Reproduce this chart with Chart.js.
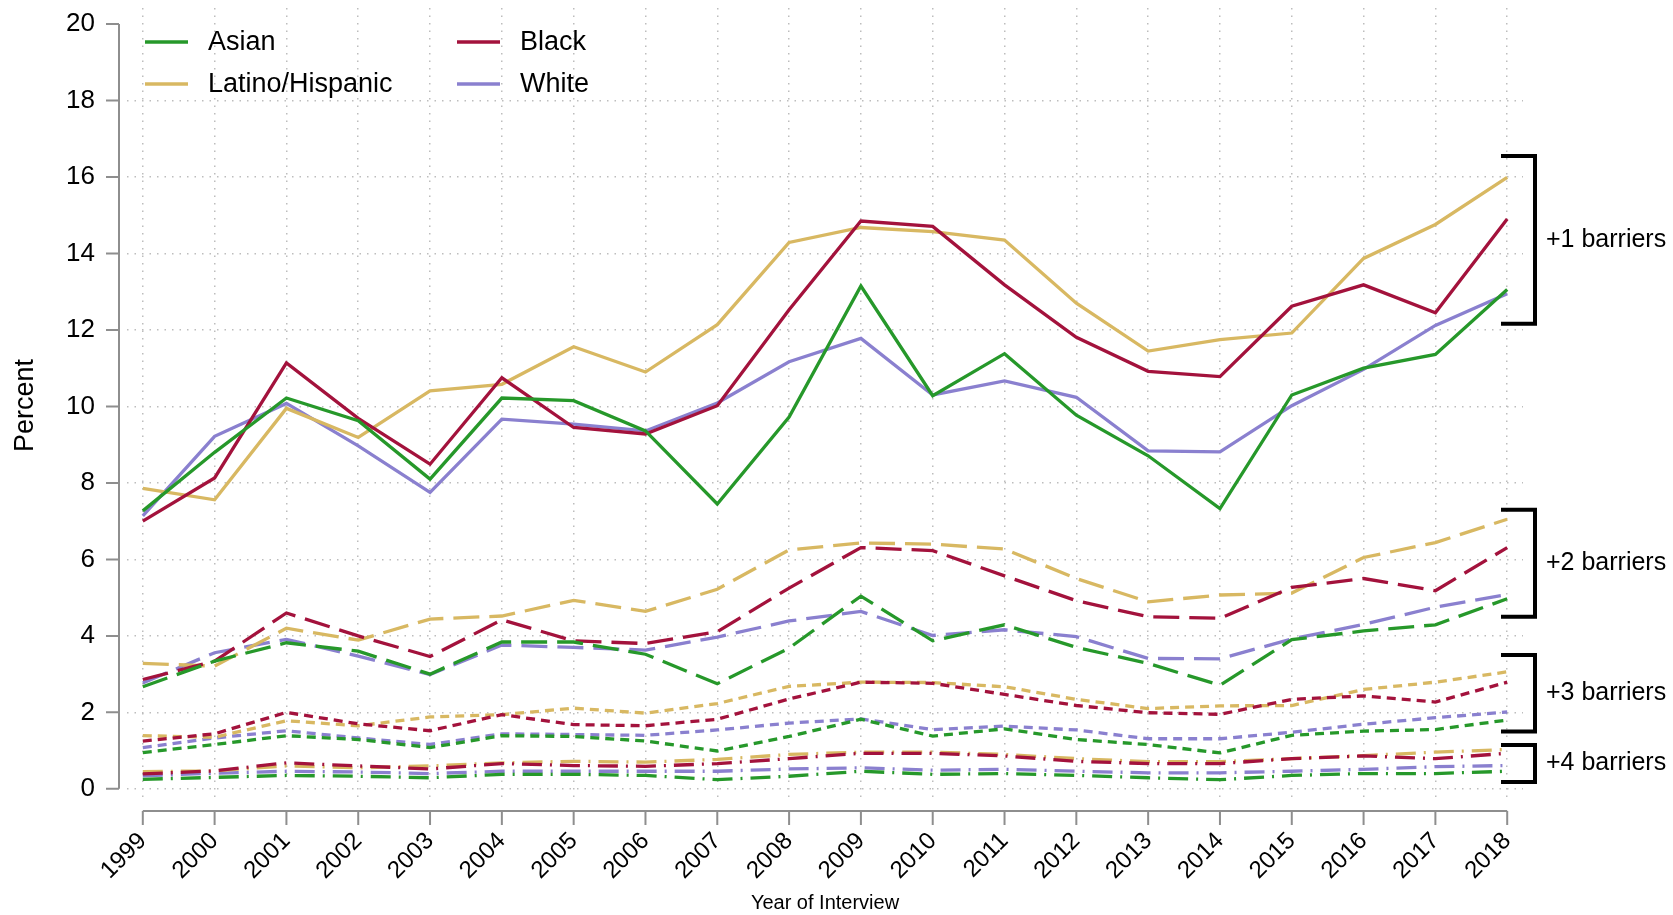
<!DOCTYPE html>
<html>
<head>
<meta charset="utf-8">
<title>Barriers by race, 1999-2018</title>
<script src="https://cdn.jsdelivr.net/npm/chart.js@4"></script>
<style>
	html, body { margin: 0; padding: 0; background: #ffffff; }
	#wrap { width: 1673px; height: 915px; }
</style>
</head>
<body>
<div id="wrap"><canvas id="barrierChart" width="1673" height="915"></canvas></div>
<script>
// Years on the x axis
const years = [1999, 2000, 2001, 2002, 2003, 2004, 2005, 2006, 2007, 2008,
	2009, 2010, 2011, 2012, 2013, 2014, 2015, 2016, 2017, 2018];

// Y ticks (percent)
const yTicks = [0, 2, 4, 6, 8, 10, 12, 14, 16, 18, 20];

// Groups
const groups = ['Asian', 'Black', 'Latino/Hispanic', 'White'];

// +1 barriers
const asian1 = [7.27, 8.8, 10.22, 9.63, 8.1, 10.22, 10.15, 9.36, 7.45, 9.72, 13.15, 10.28, 11.38, 9.77, 8.71, 7.33, 10.3, 11.0, 11.36, 13.06];
const black1 = [7.0, 8.13, 11.14, 9.69, 8.49, 10.75, 9.45, 9.28, 10.02, 12.53, 14.85, 14.71, 13.18, 11.81, 10.92, 10.78, 12.62, 13.18, 12.45, 14.9];
const latino1 = [7.86, 7.56, 9.95, 9.19, 10.41, 10.58, 11.56, 10.9, 12.14, 14.29, 14.68, 14.57, 14.35, 12.7, 11.45, 11.75, 11.92, 13.87, 14.76, 15.99];
const white1 = [7.14, 9.22, 10.08, 8.97, 7.75, 9.67, 9.54, 9.36, 10.09, 11.17, 11.78, 10.3, 10.67, 10.24, 8.84, 8.81, 10.02, 10.97, 12.12, 12.95];

// +2 barriers
const asian2 = [2.67, 3.34, 3.82, 3.6, 3.0, 3.84, 3.84, 3.52, 2.75, 3.68, 5.04, 3.87, 4.29, 3.7, 3.28, 2.71, 3.9, 4.13, 4.29, 4.97];
const black2 = [2.86, 3.34, 4.6, 4.0, 3.46, 4.42, 3.87, 3.8, 4.11, 5.25, 6.31, 6.23, 5.57, 4.92, 4.5, 4.46, 5.27, 5.5, 5.18, 6.31];
const latino2 = [3.28, 3.21, 4.2, 3.89, 4.44, 4.52, 4.93, 4.64, 5.22, 6.25, 6.43, 6.4, 6.27, 5.5, 4.89, 5.07, 5.12, 6.05, 6.44, 7.05];
const white2 = [2.77, 3.56, 3.91, 3.47, 2.99, 3.76, 3.7, 3.63, 3.97, 4.39, 4.64, 4.01, 4.16, 3.98, 3.41, 3.4, 3.92, 4.3, 4.75, 5.08];

// +3 barriers
const asian3 = [0.95, 1.16, 1.39, 1.29, 1.08, 1.39, 1.37, 1.25, 0.99, 1.37, 1.82, 1.38, 1.57, 1.29, 1.16, 0.94, 1.4, 1.51, 1.55, 1.8];
const black3 = [1.25, 1.44, 2.0, 1.7, 1.52, 1.94, 1.68, 1.65, 1.82, 2.35, 2.79, 2.76, 2.47, 2.18, 1.99, 1.95, 2.34, 2.43, 2.27, 2.79];
const latino3 = [1.39, 1.35, 1.78, 1.65, 1.88, 1.94, 2.11, 1.98, 2.23, 2.68, 2.79, 2.78, 2.67, 2.34, 2.1, 2.17, 2.18, 2.6, 2.79, 3.06];
const white3 = [1.08, 1.33, 1.52, 1.33, 1.16, 1.44, 1.42, 1.4, 1.54, 1.72, 1.83, 1.55, 1.64, 1.54, 1.31, 1.31, 1.48, 1.69, 1.86, 2.01];

// +4 barriers
const asian4 = [0.25, 0.3, 0.35, 0.33, 0.29, 0.38, 0.38, 0.35, 0.24, 0.33, 0.46, 0.38, 0.4, 0.35, 0.29, 0.24, 0.35, 0.4, 0.4, 0.46];
const black4 = [0.39, 0.47, 0.68, 0.6, 0.52, 0.66, 0.61, 0.59, 0.66, 0.79, 0.93, 0.93, 0.86, 0.72, 0.66, 0.66, 0.79, 0.86, 0.79, 0.93];
const latino4 = [0.45, 0.47, 0.6, 0.55, 0.6, 0.68, 0.72, 0.7, 0.77, 0.9, 0.96, 0.96, 0.9, 0.79, 0.71, 0.71, 0.79, 0.87, 0.96, 1.03];
const white4 = [0.34, 0.41, 0.46, 0.44, 0.4, 0.46, 0.46, 0.46, 0.46, 0.52, 0.55, 0.49, 0.51, 0.46, 0.42, 0.42, 0.46, 0.51, 0.58, 0.61];

// Bracket labels and the range (percent) each bracket spans
const bracketLabels = ['+1 barriers', '+2 barriers', '+3 barriers', '+4 barriers'];
const bracketLow = [12.16, 4.5, 1.5, 0.18];
const bracketHigh = [16.55, 7.3, 3.5, 1.15];

// Colours per group
const colours = {
	'Asian': '#26982a',
	'Black': '#a3123c',
	'Latino/Hispanic': '#d8b862',
	'White': '#8a80cf'
};

// Dash patterns per barrier level
const dashes = [[], [26, 10], [9, 6], [20, 8, 2, 8]];

const FONT = '"Liberation Sans", Arial, Helvetica, sans-serif';

// Build datasets - one per group per barrier level
const series = [
	[asian1, black1, latino1, white1],
	[asian2, black2, latino2, white2],
	[asian3, black3, latino3, white3],
	[asian4, black4, latino4, white4]
];
const datasets = [];
series.forEach((level, li) => {
	level.forEach((vals, gi) => {
		datasets.push({
			label: groups[gi] + ' ' + bracketLabels[li],
			data: vals.map((v, i) => ({ x: years[i], y: v })),
			borderColor: colours[groups[gi]],
			borderWidth: 3.3,
			borderDash: dashes[li],
			pointRadius: 0,
			tension: 0,
			fill: false
		});
	});
});

// Stata-like axes, legend and brackets
const extras = {
	id: 'extras',
	afterDraw(chart) {
		const ctx = chart.ctx;
		const xs = chart.scales.x;
		const ys = chart.scales.y;
		const area = chart.chartArea;
		ctx.save();

		// Y axis line + ticks (0 to 20 only)
		ctx.strokeStyle = '#8e8e8e';
		ctx.lineWidth = 2;
		const ax = area.left - 8;
		ctx.beginPath();
		ctx.moveTo(ax, ys.getPixelForValue(yTicks[0]));
		ctx.lineTo(ax, ys.getPixelForValue(yTicks[yTicks.length - 1]));
		yTicks.forEach(t => {
			const py = ys.getPixelForValue(t);
			ctx.moveTo(ax - 13, py);
			ctx.lineTo(ax, py);
		});
		ctx.stroke();

		// X axis line + ticks (1999 to 2018 only)
		const ay = area.bottom + 8;
		ctx.beginPath();
		ctx.moveTo(xs.getPixelForValue(years[0]), ay);
		ctx.lineTo(xs.getPixelForValue(years[years.length - 1]), ay);
		years.forEach(yr => {
			const px = xs.getPixelForValue(yr);
			ctx.moveTo(px, ay);
			ctx.lineTo(px, ay + 14);
		});
		ctx.stroke();

		// Legend inside the plot
		ctx.font = '27px ' + FONT;
		ctx.textBaseline = 'middle';
		ctx.fillStyle = '#000';
		ctx.lineWidth = 3.3;
		groups.forEach((g, i) => {
			const col = i % 2;
			const row = Math.floor(i / 2);
			const lx = area.left + 18 + col * 312;
			const ly = area.top + 34 + row * 42;
			ctx.strokeStyle = colours[g];
			ctx.beginPath();
			ctx.moveTo(lx, ly);
			ctx.lineTo(lx + 43, ly);
			ctx.stroke();
			ctx.fillText(g, lx + 63, ly + 1);
		});

		// Brackets on the right
		ctx.strokeStyle = '#000';
		ctx.lineWidth = 4;
		ctx.font = '25px ' + FONT;
		bracketLabels.forEach((lab, i) => {
			const top = ys.getPixelForValue(bracketHigh[i]);
			const bot = ys.getPixelForValue(bracketLow[i]);
			const bx = area.right + 12;
			ctx.beginPath();
			ctx.moveTo(area.right - 22, top);
			ctx.lineTo(bx, top);
			ctx.lineTo(bx, bot);
			ctx.lineTo(area.right - 22, bot);
			ctx.stroke();
			ctx.fillText(lab, bx + 11, (top + bot) / 2);
		});
		ctx.restore();
	}
};

// Chart
new Chart(document.getElementById('barrierChart'), {
	type: 'line',
	data: { datasets: datasets },
	plugins: [extras],
	options: {
		responsive: false,
		animation: false,
		events: [],
		layout: { padding: { top: 8, right: 150, left: 0, bottom: 0 } },
		plugins: {
			legend: { display: false },
			tooltip: { enabled: false }
		},
		scales: {
			x: {
				type: 'linear',
				min: 1998.78,
				max: 2018.22,
				afterBuildTicks: s => { s.ticks = years.map(v => ({ value: v })); },
				// fixed axis height, no automatic side padding
				afterFit: s => { s.height = 112; s.paddingLeft = 0; s.paddingRight = 0; },
				border: { display: false, dash: [1.5, 6] },
				grid: {
					color: '#bdbdbd',
					lineWidth: 1.5,
					drawTicks: false
				},
				ticks: {
					autoSkip: false,
					minRotation: 45,
					maxRotation: 45,
					padding: 24,
					color: '#000',
					font: { family: FONT, size: 24 },
					callback: v => String(v)
				},
				title: {
					display: true,
					text: 'Year of Interview',
					color: '#000',
					font: { family: FONT, size: 20 },
					padding: { top: 0, bottom: 0 }
				}
			},
			y: {
				min: -0.37,
				max: 20.42,
				afterBuildTicks: s => { s.ticks = yTicks.map(v => ({ value: v })); },
				afterFit: s => { s.width = 127; s.paddingTop = 0; s.paddingBottom = 0; },
				border: { display: false, dash: [1.5, 6] },
				grid: {
					color: c => (c.tick && c.tick.value === 20) ? 'rgba(0,0,0,0)' : '#bdbdbd',
					lineWidth: 1.5,
					drawTicks: false
				},
				ticks: {
					padding: 32,
					color: '#000',
					font: { family: FONT, size: 26 }
				},
				title: {
					display: true,
					text: 'Percent',
					color: '#000',
					font: { family: FONT, size: 27 },
					padding: { top: 9, bottom: 0 }
				}
			}
		}
	}
});
</script>
</body>
</html>
